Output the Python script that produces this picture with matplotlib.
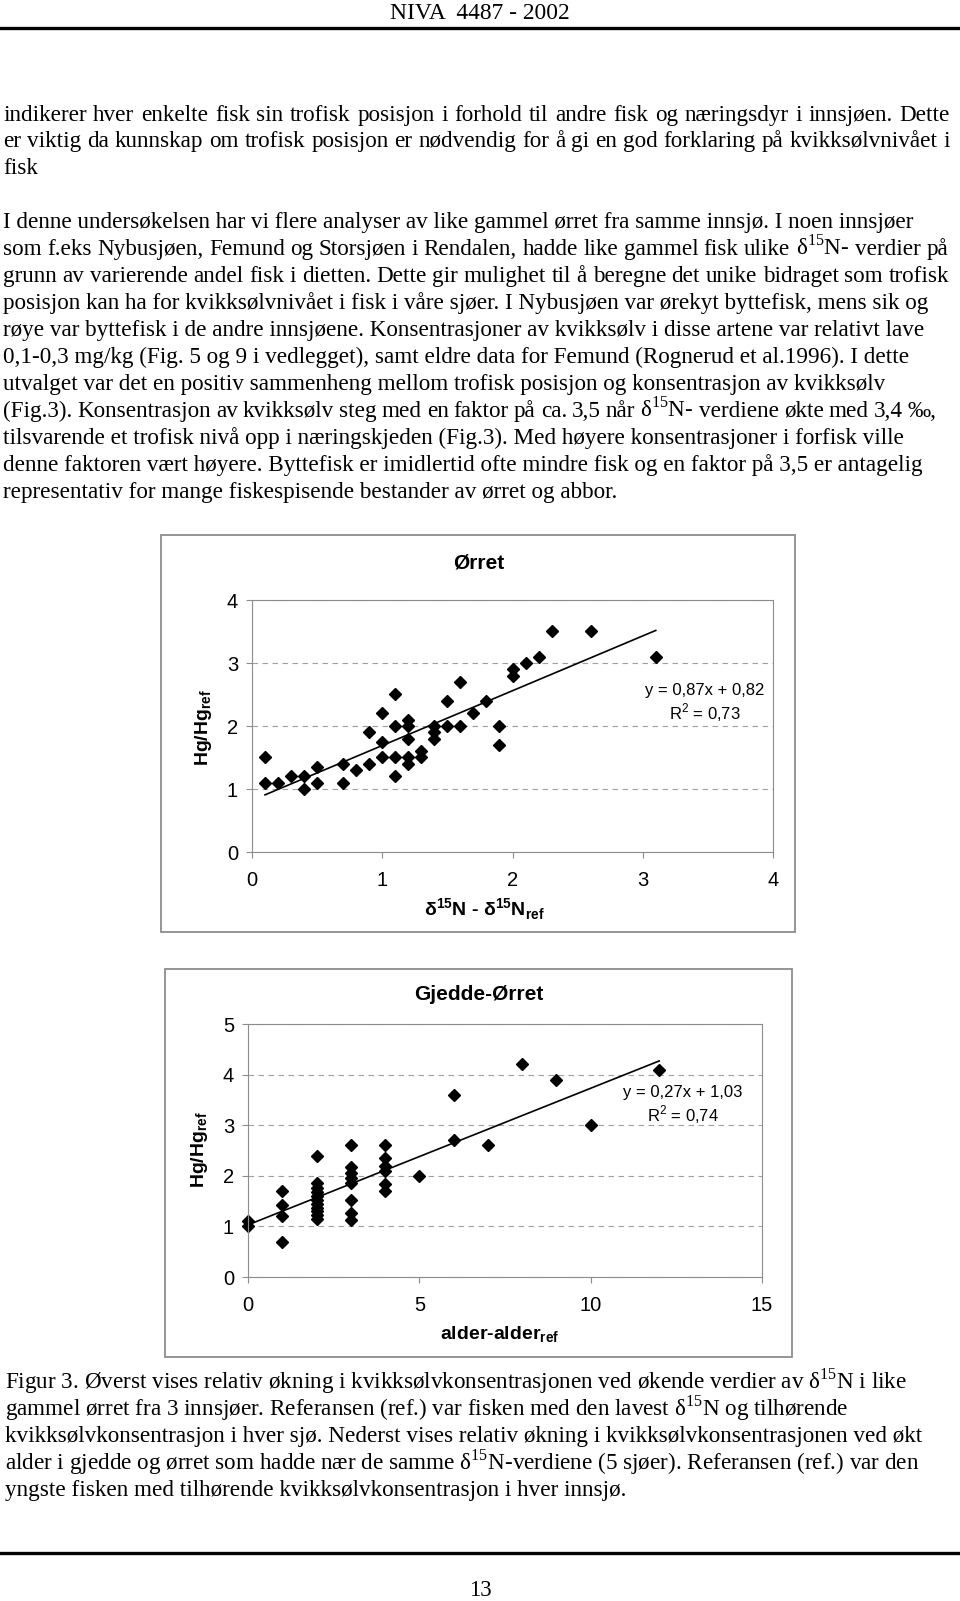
"""
Page 13 of NIVA 4487-2002: text, two scatter plots with trend lines
(Hg/Hg_ref against delta-15N and against age), and the figure caption.
"""

import matplotlib
matplotlib.use("Agg")
import matplotlib.pyplot as plt
from matplotlib.patches import Rectangle

plt.rcParams['mathtext.fontset'] = 'custom'
plt.rcParams['mathtext.rm'] = 'Liberation Serif'
plt.rcParams['mathtext.sf'] = 'Liberation Sans'
plt.rcParams['mathtext.bf'] = 'Liberation Sans:bold'

# Ørret: delta15N - delta15N_ref vs Hg/Hg_ref
d15n = [0.1, 0.1, 0.2, 0.3, 0.4, 0.4, 0.5, 0.5, 0.7, 0.7, 0.8, 0.9, 0.9,
        1.0, 1.0, 1.0, 1.1, 1.1, 1.1, 1.1, 1.2, 1.2, 1.2, 1.2, 1.2,
        1.3, 1.3, 1.4, 1.4, 1.4, 1.5, 1.5, 1.6, 1.6, 1.7, 1.8, 1.9, 1.9,
        2.0, 2.0, 2.1, 2.2, 2.3, 2.6, 3.1]
hg_orret = [1.5, 1.1, 1.1, 1.2, 1.2, 1.0, 1.35, 1.1, 1.4, 1.1, 1.3, 1.9, 1.4,
            2.2, 1.75, 1.5, 2.5, 2.0, 1.5, 1.2, 2.1, 2.0, 1.8, 1.5, 1.4,
            1.6, 1.5, 2.0, 1.9, 1.8, 2.4, 2.0, 2.7, 2.0, 2.2, 2.4, 2.0, 1.7,
            2.9, 2.8, 3.0, 3.1, 3.5, 3.5, 3.1]
fit_orret = (0.87, 0.82)
r2_orret = "0,73"

# Gjedde-Ørret: alder - alder_ref vs Hg/Hg_ref
alder = [0, 0,
         1, 1, 1, 1,
         2, 2, 2, 2, 2, 2, 2, 2, 2, 2, 2,
         3, 3, 3, 3, 3, 3, 3, 3,
         4, 4, 4, 4, 4, 4,
         5, 6, 6, 7, 8, 9, 10, 12]
hg_gjedde = [1.1, 1.0,
             1.7, 1.42, 1.2, 0.69,
             2.4, 1.85, 1.75, 1.68, 1.6, 1.52, 1.45, 1.37, 1.3, 1.22, 1.15,
             2.6, 2.17, 2.05, 1.95, 1.85, 1.53, 1.27, 1.12,
             2.6, 2.35, 2.2, 2.1, 1.83, 1.7,
             2.0, 3.6, 2.7, 2.6, 4.2, 3.9, 3.0, 4.1]
fit_gjedde = (0.27, 1.03)
r2_gjedde = "0,74"

header = "NIVA  4487 - 2002"
para1 = [
    "indikerer hver enkelte fisk sin trofisk posisjon i forhold til andre fisk og næringsdyr i innsjøen. Dette",
    "er viktig da kunnskap om trofisk posisjon er nødvendig for å gi en god forklaring på kvikksølvnivået i",
    "fisk",
]
para2 = [
    "I denne undersøkelsen har vi flere analyser av like gammel ørret fra samme innsjø. I noen innsjøer",
    r"som f.eks Nybusjøen, Femund og Storsjøen i Rendalen, hadde like gammel fisk ulike δ$^{\mathrm{15}}$N- verdier på",
    "grunn av varierende andel fisk i dietten. Dette gir mulighet til å beregne det unike bidraget som trofisk",
    "posisjon kan ha for kvikksølvnivået i fisk i våre sjøer. I Nybusjøen var ørekyt byttefisk, mens sik og",
    "røye var byttefisk i de andre innsjøene. Konsentrasjoner av kvikksølv i disse artene var relativt lave",
    "0,1-0,3 mg/kg (Fig. 5 og 9 i vedlegget), samt eldre data for Femund (Rognerud et al.1996). I dette",
    "utvalget var det en positiv sammenheng mellom trofisk posisjon og konsentrasjon av kvikksølv",
    r"(Fig.3). Konsentrasjon av kvikksølv steg med en faktor på ca. 3,5 når δ$^{\mathrm{15}}$N- verdiene økte med 3,4 ‰,",
    "tilsvarende et trofisk nivå opp i næringskjeden (Fig.3). Med høyere konsentrasjoner i forfisk ville",
    "denne faktoren vært høyere. Byttefisk er imidlertid ofte mindre fisk og en faktor på 3,5 er antagelig",
    "representativ for mange fiskespisende bestander av ørret og abbor.",
]
caption = [
    r"Figur 3. Øverst vises relativ økning i kvikksølvkonsentrasjonen ved økende verdier av δ$^{\mathrm{15}}$N i like",
    r"gammel ørret fra 3 innsjøer. Referansen (ref.) var fisken med den lavest δ$^{\mathrm{15}}$N og tilhørende",
    "kvikksølvkonsentrasjon i hver sjø. Nederst vises relativ økning i kvikksølvkonsentrasjonen ved økt",
    r"alder i gjedde og ørret som hadde nær de samme δ$^{\mathrm{15}}$N-verdiene (5 sjøer). Referansen (ref.) var den",
    "yngste fisken med tilhørende kvikksølvkonsentrasjon i hver innsjø.",
]
page_no = "13"

W, H = 960, 1601
fig = plt.figure(figsize=(W / 100, H / 100), dpi=100)

# page layer in pixel coordinates
page = fig.add_axes([0, 0, 1, 1])
page.set_xlim(0, W)
page.set_ylim(H, 0)
page.axis('off')

serif = 'Liberation Serif'
sans = 'Liberation Sans'
body_size = 16.65
renderer = fig.canvas.get_renderer()

page.text(480, 19, header, family=serif, fontsize=16.9, ha='center', va='baseline')
page.plot([0, W], [28, 28], color='black', lw=2.4)


def put_line(x, y, s, right=None):
    kw = dict(family=serif, fontsize=body_size, ha='left', va='baseline')
    if right is None:
        page.text(x, y, s, **kw)
        return
    # spread the words so the line ends at `right` (justified line)
    words = s.split(' ')
    texts = [page.text(x, y, w, **kw) for w in words]
    widths = [t.get_window_extent(renderer).width for t in texts]
    gap = (right - x - sum(widths)) / (len(words) - 1)
    pos = x
    for t, w in zip(texts, widths):
        t.set_x(pos)
        pos += w + gap


def put_lines(lines, x, y0, step, rights=None):
    rights = rights or {}
    for i, s in enumerate(lines):
        put_line(x, y0 + i * step, s, rights.get(i))


put_lines(para1, 3, 120.5, 26.6, {0: 950, 1: 950})
put_lines(para2, 3, 228, 26.96, {1: 948, 2: 949, 7: 937})
put_lines(caption, 5, 1388, 27.05)

page.plot([0, W], [1553, 1553], color='black', lw=2.4)
page.text(480, 1596, page_no, family=serif, fontsize=16.5, ha='center', va='baseline')

# chart frames
page.add_patch(Rectangle((161, 535), 634, 397, fill=False, ec='#8c8c8c', lw=1.3))
page.add_patch(Rectangle((165, 969), 627, 388, fill=False, ec='#8c8c8c', lw=1.3))


def chart(box, x, y, fit, xmax, ymax, xticks):
    left, top, right, bottom = box
    ax = fig.add_axes([left / W, 1 - bottom / H, (right - left) / W, (bottom - top) / H])
    ax.set_xlim(0, xmax)
    ax.set_ylim(0, ymax)
    ax.set_xticks(xticks)
    ax.set_yticks(range(ymax + 1))
    for sp in ax.spines.values():
        sp.set_color('#8c8c8c')
        sp.set_linewidth(0.8)
    ax.yaxis.grid(True, color='#a0a0a0', lw=0.8, linestyle=(0, (5, 4)))
    ax.set_axisbelow(True)
    ax.tick_params(direction='out', length=4, width=0.8, color='#8c8c8c', labelsize=14.5)
    ax.tick_params(axis='x', pad=10)
    ax.tick_params(axis='y', pad=6)
    for lab in ax.get_xticklabels() + ax.get_yticklabels():
        lab.set_family(sans)
    ax.plot(x, y, 'D', color='black', ms=6.3, ls='none', clip_on=False)
    a, b = fit
    xs = [min(x), max(x)]
    ax.plot(xs, [a * v + b for v in xs], color='black', lw=1.2)
    ax.patch.set_alpha(0)
    return ax


chart((252, 600, 773, 852), d15n, hg_orret, fit_orret, 4, 4, [0, 1, 2, 3, 4])
chart((248, 1024, 762, 1277), alder, hg_gjedde, fit_gjedde, 15, 5, [0, 5, 10, 15])

# chart texts
lab = dict(family=sans, fontweight='bold', ha='center', va='center')
page.text(479, 563, "Ørret", fontsize=15, **lab)
page.text(204, 727, r"Hg/Hg$_{\mathbf{ref}}$", rotation=90, fontsize=14, **lab)
page.text(484, 909, r"δ$^{\mathbf{15}}$N - δ$^{\mathbf{15}}$N$_{\mathbf{ref}}$", fontsize=14, **lab)
page.text(479, 994, "Gjedde-Ørret", fontsize=15, **lab)
page.text(200, 1149, r"Hg/Hg$_{\mathbf{ref}}$", rotation=90, fontsize=14, **lab)
page.text(500, 1335, r"alder-alder$_{\mathbf{ref}}$", fontsize=14, **lab)


def eq_text(fit):
    a, b = fit
    return "y = %sx + %s" % (("%.2f" % a).replace('.', ','), ("%.2f" % b).replace('.', ','))


eq = dict(family=sans, fontsize=12, ha='center', va='center')
page.text(705, 690, eq_text(fit_orret), **eq)
page.text(705, 713, r"R$^{\mathsf{2}}$ = " + r2_orret, **eq)
page.text(683, 1092, eq_text(fit_gjedde), **eq)
page.text(683, 1115, r"R$^{\mathsf{2}}$ = " + r2_gjedde, **eq)

fig.savefig("out.png", dpi=100)
